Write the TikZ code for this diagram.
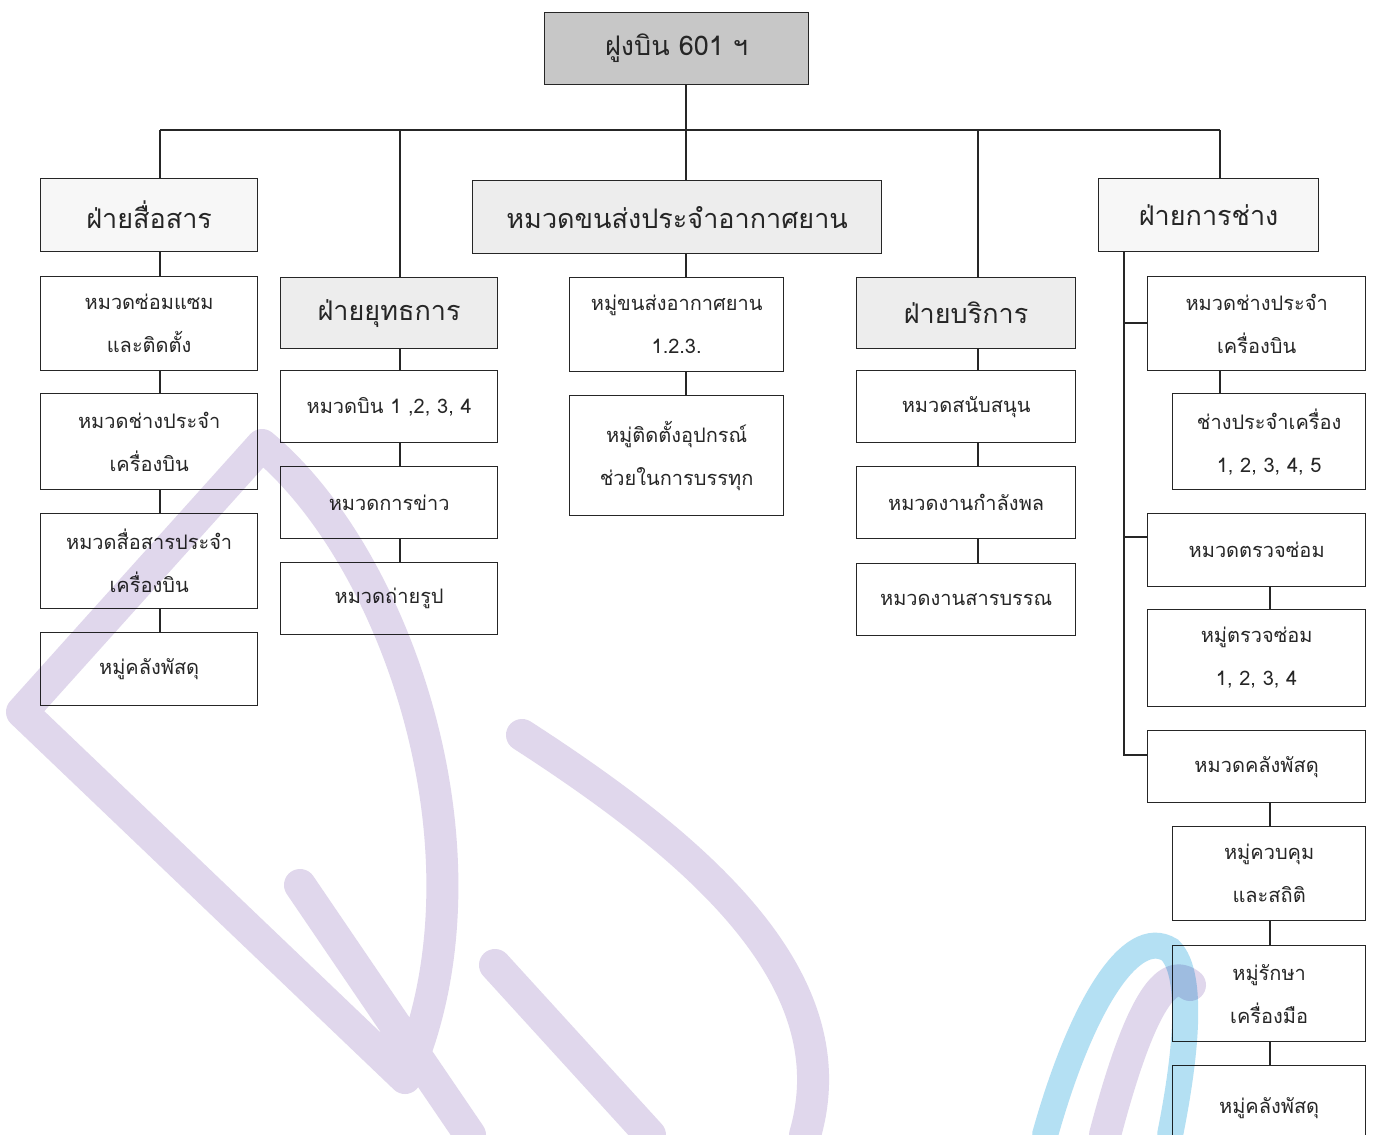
\documentclass[tikz,border=0pt]{standalone}
\usepackage{fontspec}
\setmainfont{Liberation Serif}
\newfontfamily\thai[Script=Thai]{Loma}
\definecolor{wmlav}{RGB}{224,215,236}
\definecolor{wmcyan}{RGB}{180,224,243}
\tikzset{
  unitbox/.style={draw=black!85, line width=1.3pt, inner sep=0pt, align=center,
    text=black!85, anchor=north west},
  bigtxt/.style={font=\thai\fontsize{27}{32}\selectfont},
  smalltxt/.style={font=\thai\fontsize{20}{43}\selectfont},
  link/.style={draw=black!85, line width=1.3pt},
  darkfill/.style={fill=black!22},
  lightfill/.style={fill=black!7},
  faintfill/.style={fill=black!3},
  wmband/.style={draw=wmlav, line width=32pt, line cap=round, line join=round},
  wmband2/.style={draw=wmcyan, line width=26pt, line cap=round},
}
% \ubox{name}{x1}{y1}{x2}{y2}{style}{text}
\newcommand\ubox[7]{%
  \node[unitbox,#6,minimum width=#4pt-#2pt,minimum height=#5pt-#3pt]
    (#1) at (#2,#3) {};
  \node[#6,fill=none,draw=none,text=black!85,align=center] at (#1.center) {#7};}
\begin{document}
\begin{tikzpicture}[x=1pt,y=-1pt]
\useasboundingbox (0,0) rectangle (1377,1135);
\fill[white] (0,0) rectangle (1377,1135);

% top level
\ubox{root}{544}{12}{808}{84}{darkfill,bigtxt}{ฝูงบิน 601 ฯ}

% second level
\ubox{com}{40}{178}{257}{251}{faintfill,bigtxt}{ฝ่ายสื่อสาร}
\ubox{ops}{280}{277}{497}{348}{lightfill,bigtxt}{ฝ่ายยุทธการ}
\ubox{trn}{472}{180}{881}{253}{lightfill,bigtxt}{หมวดขนส่งประจำอากาศยาน}
\ubox{srv}{856}{277}{1075}{348}{lightfill,bigtxt}{ฝ่ายบริการ}
\ubox{eng}{1098}{178}{1318}{251}{faintfill,bigtxt}{ฝ่ายการช่าง}

% communications
\ubox{c1}{40}{276}{257}{370}{fill=white,smalltxt}{หมวดซ่อมแซม\\และติดตั้ง}
\ubox{c2}{40}{393}{257}{489}{fill=white,smalltxt}{หมวดช่างประจำ\\เครื่องบิน}
\ubox{c3}{40}{513}{257}{608}{fill=white,smalltxt}{หมวดสื่อสารประจำ\\เครื่องบิน}
\ubox{c4}{40}{632}{257}{705}{fill=white,smalltxt}{หมู่คลังพัสดุ}

% operations
\ubox{o1}{280}{370}{497}{442}{fill=white,smalltxt}{หมวดบิน 1 ,2, 3, 4}
\ubox{o2}{280}{466}{497}{538}{fill=white,smalltxt}{หมวดการข่าว}
\ubox{o3}{280}{562}{497}{634}{fill=white,smalltxt}{หมวดถ่ายรูป}

% air transport
\ubox{t1}{569}{277}{783}{371}{fill=white,smalltxt}{หมู่ขนส่งอากาศยาน\\1.2.3.}
\ubox{t2}{569}{395}{783}{515}{fill=white,smalltxt}{หมู่ติดตั้งอุปกรณ์\\ช่วยในการบรรทุก}

% services
\ubox{s1}{856}{370}{1075}{442}{fill=white,smalltxt}{หมวดสนับสนุน}
\ubox{s2}{856}{466}{1075}{538}{fill=white,smalltxt}{หมวดงานกำลังพล}
\ubox{s3}{856}{563}{1075}{635}{fill=white,smalltxt}{หมวดงานสารบรรณ}

% engineering
\ubox{e1}{1147}{276}{1365}{370}{fill=white,smalltxt}{หมวดช่างประจำ\\เครื่องบิน}
\ubox{e2}{1172}{393}{1365}{489}{fill=white,smalltxt}{ช่างประจำเครื่อง\\1, 2, 3, 4, 5}
\ubox{e3}{1147}{513}{1365}{586}{fill=white,smalltxt}{หมวดตรวจซ่อม}
\ubox{e4}{1147}{609}{1365}{706}{fill=white,smalltxt}{หมู่ตรวจซ่อม\\1, 2, 3, 4}
\ubox{e5}{1147}{730}{1365}{802}{fill=white,smalltxt}{หมวดคลังพัสดุ}
\ubox{e6}{1172}{826}{1365}{920}{fill=white,smalltxt}{หมู่ควบคุม\\และสถิติ}
\ubox{e7}{1172}{945}{1365}{1041}{fill=white,smalltxt}{หมู่รักษา\\เครื่องมือ}
\ubox{e8}{1172}{1065}{1365}{1150}{fill=white,smalltxt}{หมู่คลังพัสดุ}

% connector spines
\coordinate (bus) at (686,130);
\coordinate (xc) at (160,0);
\coordinate (xo) at (400,0);
\coordinate (xt) at (686,0);
\coordinate (xs) at (978,0);
\coordinate (xe) at (1220,0);
\coordinate (xv) at (1124,0);
\coordinate (xw) at (1270,0);

\draw[link] (root.south -| xt) -- (bus);
\draw[link] (bus -| xc) -- (bus -| xe);
\draw[link] (bus -| xc) -- (com.north -| xc);
\draw[link] (bus -| xo) -- (ops.north -| xo);
\draw[link] (bus) -- (trn.north -| xt);
\draw[link] (bus -| xs) -- (srv.north -| xs);
\draw[link] (bus -| xe) -- (eng.north -| xe);

\draw[link] (com.south -| xc) -- (c1.north -| xc);
\draw[link] (c1.south -| xc) -- (c2.north -| xc);
\draw[link] (c2.south -| xc) -- (c3.north -| xc);
\draw[link] (c3.south -| xc) -- (c4.north -| xc);

\draw[link] (ops.south -| xo) -- (o1.north -| xo);
\draw[link] (o1.south -| xo) -- (o2.north -| xo);
\draw[link] (o2.south -| xo) -- (o3.north -| xo);

\draw[link] (trn.south -| xt) -- (t1.north -| xt);
\draw[link] (t1.south -| xt) -- (t2.north -| xt);

\draw[link] (srv.south -| xs) -- (s1.north -| xs);
\draw[link] (s1.south -| xs) -- (s2.north -| xs);
\draw[link] (s2.south -| xs) -- (s3.north -| xs);

\coordinate (vb) at (1124,755);
\draw[link] (eng.south -| xv) -- (vb) -- (e5.west |- vb);
\draw[link] (e1.west |- 0,323) -- (xv |- 0,323);
\draw[link] (e3.west |- 0,537) -- (xv |- 0,537);
\draw[link] (e1.south -| xe) -- (e2.north -| xe);
\draw[link] (e3.south -| xw) -- (e4.north -| xw);
\draw[link] (e5.south -| xw) -- (e6.north -| xw);
\draw[link] (e6.south -| xw) -- (e7.north -| xw);
\draw[link] (e7.south -| xw) -- (e8.north -| xw);

% faint watermark lettering laid over the chart
\begin{scope}[blend mode=multiply]
  \draw[wmband2] (1045,1135) .. controls (1080,1010) and (1130,925) .. (1170,950)
     .. controls (1195,975) and (1185,1060) .. (1170,1135);
  % D, P and U strokes in one path so crossings keep one tone
  \draw[wmband]
    (405,1078) .. controls (500,860) and (400,560) .. (262,445)
    -- (22,712) -- (405,1078)
    (522,735) .. controls (700,850) and (850,980) .. (805,1135)
    (495,965) -- (650,1135)
    (300,885) -- (470,1135)
    (1105,1135) .. controls (1130,1040) and (1160,960) .. (1190,985);
\end{scope}
\end{tikzpicture}
\end{document}
